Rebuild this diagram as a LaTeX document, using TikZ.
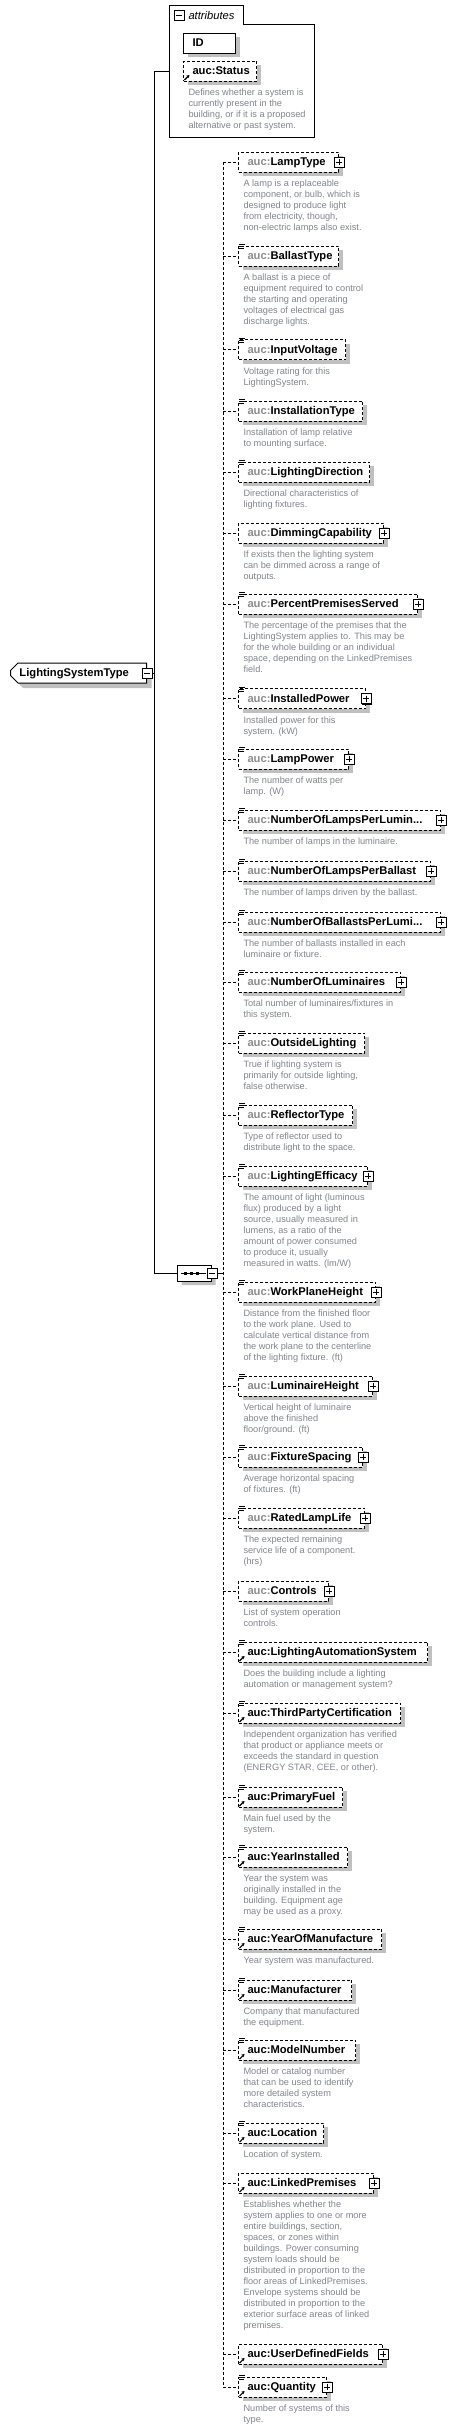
\documentclass[tikz,border=0pt]{standalone}
\usepackage{fontspec}
\setmainfont{Liberation Sans}
\usetikzlibrary{arrows.meta,shadows,shapes.misc}

\definecolor{shadowgray}{HTML}{C0C0C0}
\definecolor{prefixgray}{HTML}{8C8C8C}
\definecolor{descgray}{HTML}{80848C}

\newcommand{\pfx}{\textcolor{prefixgray}{auc:}}

% element box, its branch from the bus and its description
\newcommand{\elem}[5]{%
  \node[elem, text width=#3pt] (#1) at (238,#2) {#4};
  \draw[branch] (#1.west -| bus) -- (#1.west);
  \node[desc] (#1-d) at ([shift={(5pt,-7.3pt)}]#1.south west) {#5};}

% expand / collapse boxes
\newcommand{\plusbox}[1]{%
  \fill ([shift={(-4pt,4pt)}]#1) rectangle ++(10,10);
  \draw[fill=white] ([shift={(-5pt,5pt)}]#1) rectangle ++(10,10);
  \draw ([xshift=-3pt]#1) -- ([xshift=3pt]#1)
        ([yshift=3pt]#1) -- ([yshift=-3pt]#1);}
\newcommand{\minusbox}[1]{%
  \fill ([shift={(-4pt,4pt)}]#1) rectangle ++(10,10);
  \draw[fill=white] ([shift={(-5pt,5pt)}]#1) rectangle ++(10,10);
  \draw ([xshift=-3pt]#1) -- ([xshift=3pt]#1);}

% small icons
\newcommand{\facets}[1]{%
  \draw[line width=0.8pt] ([shift={(1pt,1pt)}]#1.north west) -- ++(6,0)
    ([shift={(1pt,-1pt)}]#1.north west) -- ++(5,0)
    ([shift={(1pt,-3pt)}]#1.north west) -- ++(5,0);}
\newcommand{\refarrow}[1]{%
  \draw[line width=1.1pt,-{Stealth[length=3pt,width=3.5pt]}]
    ([shift={(1.5pt,1.5pt)}]#1.south west) -- ++(5,-5);}

\begin{document}
\begin{tikzpicture}[x=1pt,y=-1pt,line width=1pt,
    elem/.style={draw, dash pattern=on 3pt off 2pt, fill=white, anchor=west,
      inner xsep=9pt, inner ysep=0pt, minimum height=20pt, text height=8.5pt,
      text depth=1.5pt, align=left, font=\fontsize{11.2}{13}\selectfont\bfseries,
      drop shadow={shadow xshift=4pt, shadow yshift=-4pt, fill=shadowgray, opacity=1}},
    attrbox/.style={elem, solid},
    desc/.style={anchor=north west, inner sep=0pt, align=left, text=descgray,
      font=\fontsize{9.2}{11}\selectfont},
    branch/.style={dash pattern=on 3pt off 2pt},
    rootbox/.style={chamfered rectangle, chamfered rectangle corners={north west,south west},
      chamfered rectangle xsep=4pt, draw, fill=white, anchor=west, inner xsep=5pt,
      inner ysep=0pt, minimum height=20pt, text width=118pt, text height=8.5pt, text depth=1.5pt,
      font=\fontsize{11.2}{13}\selectfont\bfseries,
      drop shadow={shadow xshift=5pt, shadow yshift=-5pt, fill=shadowgray, opacity=1}},
    seqbox/.style={chamfered rectangle, chamfered rectangle xsep=4pt, draw, fill=white,
      anchor=west, inner sep=0pt, minimum width=34pt, minimum height=16pt,
      drop shadow={shadow xshift=4pt, shadow yshift=-4pt, fill=shadowgray, opacity=1}}]
  \useasboundingbox (0,0) rectangle (454,2431);

  % attributes group
  \draw[fill=white] (169,5) -- (243,5) -- (243,24) -- (314,24) -- (314,137) -- (169,137) -- cycle;
  \coordinate (attrpm) at (179,15);
  \minusbox{attrpm}
  \node[anchor=west, inner sep=0pt, font=\fontsize{11.2}{13}\selectfont\itshape] (attrlabel) at (188,15) {attributes};
  \node[attrbox, text width=34pt] (id) at (183,43) {ID};
  \node[elem, text width=55pt] (status) at (183,71) {auc:Status};
  \refarrow{status}
  \node[desc] (status-d) at ([shift={(5pt,-7.3pt)}]status.south west)
    {Defines whether a system is\\currently present in the\\building, or if it is a proposed\\alternative or past system.};
  \coordinate (attr) at (169,71);

  % root and sequence
  \node[rootbox] (root) at (10,673) {LightingSystemType};
  \minusbox{root.east}
  \node[seqbox] (seq) at (177,1273) {};
  \draw ([xshift=4pt]seq.west) -- ([xshift=-6pt]seq.east);
  \foreach \dx in {-9pt,-3pt,3pt}
    \fill ([xshift=\dx]seq.center) +(-1.5,-1.5) rectangle +(1.5,1.5);
  \minusbox{seq.east}

  \coordinate (spine) at (154.5,71);
  \draw (attr) -- (spine) -- (spine |- seq.west) -- (seq.west);
  \draw ([xshift=5pt]root.east) -- (root.east -| spine);

  % children of the sequence
  \coordinate (bus) at (223,0);
  \elem{lamptype}{162}{82}{\pfx LampType}{A lamp is a replaceable\\component, or bulb, which is\\designed to produce light\\from electricity, though,\\non-electric lamps also exist.}
  \plusbox{lamptype.east}
  \elem{ballasttype}{256}{82}{\pfx BallastType}{A ballast is a piece of\\equipment required to control\\the starting and operating\\voltages of electrical gas\\discharge lights.}
  \facets{ballasttype}
  \elem{inputvoltage}{349.5}{89}{\pfx InputVoltage}{Voltage rating for this\\LightingSystem.}
  \facets{inputvoltage}
  \elem{installationtype}{411}{106}{\pfx InstallationType}{Installation of lamp relative\\to mounting surface.}
  \facets{installationtype}
  \elem{lightingdirection}{472}{113}{\pfx LightingDirection}{Directional characteristics of\\lighting fixtures.}
  \facets{lightingdirection}
  \elem{dimming}{533}{127}{\pfx DimmingCapability}{If exists then the lighting system\\can be dimmed across a range of\\outputs.}
  \plusbox{dimming.east}
  \elem{premises}{604}{161}{\pfx PercentPremisesServed}{The percentage of the premises that the\\LightingSystem applies to. This may be\\for the whole building or an individual\\space, depending on the LinkedPremises\\field.}
  \facets{premises} \plusbox{premises.east}
  \elem{installedpower}{698.5}{109}{\pfx InstalledPower}{Installed power for this\\system. (kW)}
  \facets{installedpower} \plusbox{installedpower.east}
  \elem{lamppower}{759}{92}{\pfx LampPower}{The number of watts per\\lamp. (W)}
  \facets{lamppower} \plusbox{lamppower.east}
  \elem{lampsperlum}{820}{184}{\pfx NumberOfLampsPerLumin...}{The number of lamps in the luminaire.}
  \facets{lampsperlum} \plusbox{lampsperlum.east}
  \elem{lampsperballast}{871}{174}{\pfx NumberOfLampsPerBallast}{The number of lamps driven by the ballast.}
  \facets{lampsperballast} \plusbox{lampsperballast.east}
  \elem{ballastsperlum}{922}{184}{\pfx NumberOfBallastsPerLumi...}{The number of ballasts installed in each\\luminaire or fixture.}
  \facets{ballastsperlum} \plusbox{ballastsperlum.east}
  \elem{luminaires}{982}{144}{\pfx NumberOfLuminaires}{Total number of luminaires/fixtures in\\this system.}
  \facets{luminaires} \plusbox{luminaires.east}
  \elem{outside}{1043}{108}{\pfx OutsideLighting}{True if lighting system is\\primarily for outside lighting,\\false otherwise.}
  \facets{outside}
  \elem{reflector}{1115}{96}{\pfx ReflectorType}{Type of reflector used to\\distribute light to the space.}
  \facets{reflector}
  \elem{efficacy}{1176}{111}{\pfx LightingEfficacy}{The amount of light (luminous\\flux) produced by a light\\source, usually measured in\\lumens, as a ratio of the\\amount of power consumed\\to produce it, usually\\measured in watts. (lm/W)}
  \facets{efficacy} \plusbox{efficacy.east}
  \elem{workplane}{1292}{119}{\pfx WorkPlaneHeight}{Distance from the finished floor\\to the work plane. Used to\\calculate vertical distance from\\the work plane to the centerline\\of the lighting fixture. (ft)}
  \facets{workplane} \plusbox{workplane.east}
  \elem{lumheight}{1386}{116}{\pfx LuminaireHeight}{Vertical height of luminaire\\above the finished\\floor/ground. (ft)}
  \facets{lumheight} \plusbox{lumheight.east}
  \elem{spacing}{1457}{106}{\pfx FixtureSpacing}{Average horizontal spacing\\of fixtures. (ft)}
  \facets{spacing} \plusbox{spacing.east}
  \elem{lamplife}{1518}{108}{\pfx RatedLampLife}{The expected remaining\\service life of a component.\\(hrs)}
  \facets{lamplife} \plusbox{lamplife.east}
  \elem{controls}{1591}{72}{\pfx Controls}{List of system operation\\controls.}
  \plusbox{controls.east}
  \elem{automation}{1652}{171}{auc:LightingAutomationSystem}{Does the building include a lighting\\automation or management system?}
  \facets{automation} \refarrow{automation}
  \elem{thirdparty}{1713}{144}{auc:ThirdPartyCertification}{Independent organization has verified\\that product or appliance meets or\\exceeds the standard in question\\(ENERGY STAR, CEE, or other).}
  \facets{thirdparty} \refarrow{thirdparty}
  \elem{fuel}{1797}{86}{auc:PrimaryFuel}{Main fuel used by the\\system.}
  \facets{fuel} \refarrow{fuel}
  \elem{installed}{1857}{91}{auc:YearInstalled}{Year the system was\\originally installed in the\\building. Equipment age\\may be used as a proxy.}
  \facets{installed} \refarrow{installed}
  \elem{manufactured}{1939}{125}{auc:YearOfManufacture}{Year system was manufactured.}
  \facets{manufactured} \refarrow{manufactured}
  \elem{manufacturer}{1990}{95}{auc:Manufacturer}{Company that manufactured\\the equipment.}
  \facets{manufacturer} \refarrow{manufacturer}
  \elem{model}{2050}{99}{auc:ModelNumber}{Model or catalog number\\that can be used to identify\\more detailed system\\characteristics.}
  \facets{model} \refarrow{model}
  \elem{location}{2133}{67}{auc:Location}{Location of system.}
  \facets{location} \refarrow{location}
  \elem{linked}{2183}{117}{auc:LinkedPremises}{Establishes whether the\\system applies to one or more\\entire buildings, section,\\spaces, or zones within\\buildings. Power consuming\\system loads should be\\distributed in proportion to the\\floor areas of LinkedPremises.\\Envelope systems should be\\distributed in proportion to the\\exterior surface areas of linked\\premises.}
  \refarrow{linked} \plusbox{linked.east}
  \elem{userfields}{2354}{126}{auc:UserDefinedFields}{}
  \refarrow{userfields} \plusbox{userfields.east}
  \elem{quantity}{2387}{70}{auc:Quantity}{Number of systems of this\\type.}
  \facets{quantity} \refarrow{quantity} \plusbox{quantity.east}

  % bus of the sequence
  \draw[branch] (lamptype.west -| bus) -- (quantity.west -| bus);
  \draw ([xshift=5pt]seq.east) -- (seq.east -| bus);
\end{tikzpicture}
\end{document}
